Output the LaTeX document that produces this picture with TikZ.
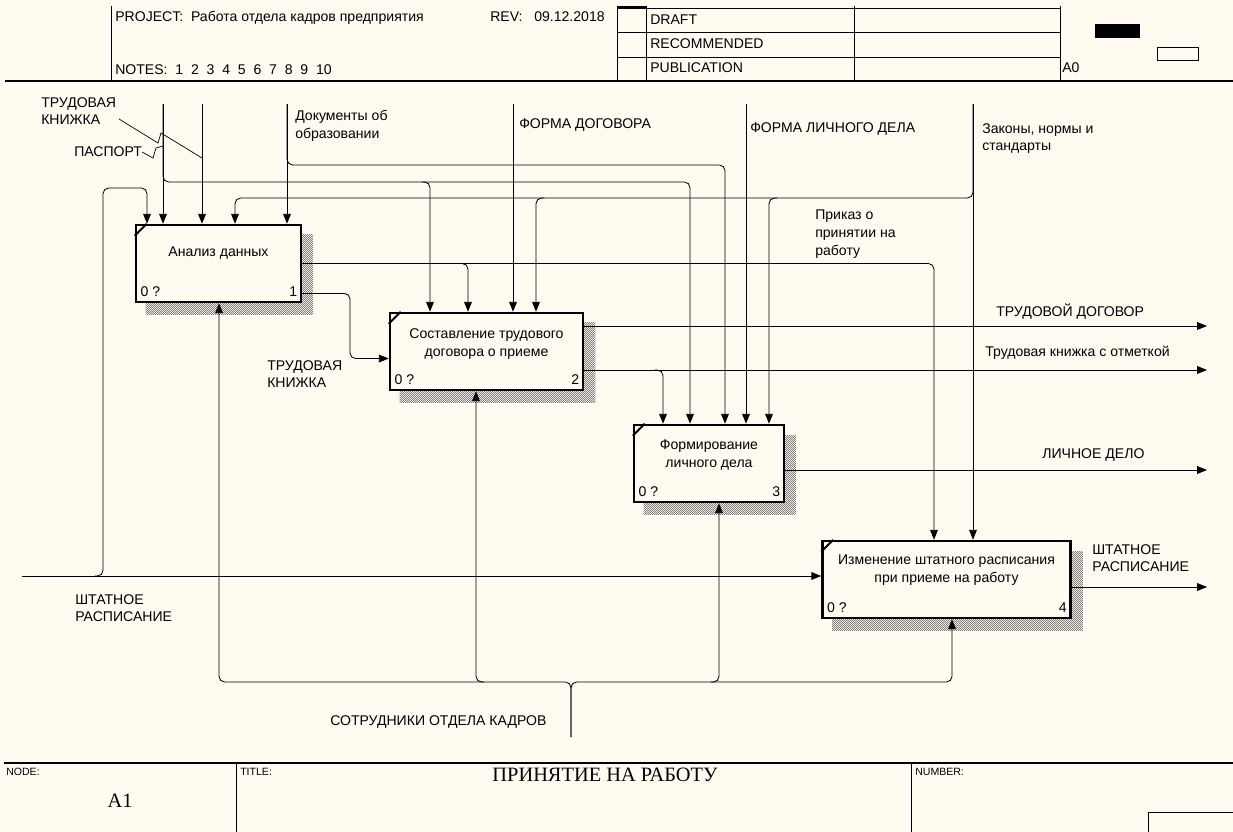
\documentclass[tikz,border=0pt]{standalone}
\usepackage{fontspec}
\setmainfont{Liberation Sans}
\newfontfamily\ttlfont{Liberation Serif}
\usetikzlibrary{%
  arrows.meta,
  positioning,calc,
  patterns, backgrounds
}
\definecolor{paper}{HTML}{FFFBF0}
\pgfdeclarepatternformonly{shadowdots}{\pgfpointorigin}{\pgfqpoint{1.42pt}{1.42pt}}{\pgfqpoint{1.42pt}{1.42pt}}{%
  \pgfpathrectangle{\pgfpointorigin}{\pgfqpoint{0.71pt}{0.71pt}}
  \pgfpathrectangle{\pgfqpoint{0.71pt}{0.71pt}}{\pgfqpoint{0.71pt}{0.71pt}}
  \pgfusepath{fill}
}
\tikzset{
  flow/.style={-{Triangle[length=7pt,width=5.5pt]},line width=0.6pt},
  rc/.style={rounded corners=4pt},
  fn/.style={draw,line width=1.8pt,fill=paper,minimum height=1.925cm,inner sep=0pt},
  lbl/.style={inner sep=0pt,align=left,font=\fontsize{10}{12.7}\selectfont},
  fname/.style={inner sep=0pt,align=center,anchor=north,font=\fontsize{10}{12.7}\selectfont},
  hdr/.style={inner sep=0pt,anchor=base west,font=\fontsize{10}{12}\selectfont},
  small/.style={inner sep=0pt,anchor=base west,font=\fontsize{7.5}{9}\selectfont},
}
\begin{document}
\begin{tikzpicture}[x=0.025cm,y=-0.025cm]
  \useasboundingbox (0,0) rectangle (1233,832);

  % header
  \foreach \x in {111,617,646,854,1060} \draw[line width=0.6pt] (\x,6) -- (\x,81);
  \foreach \y in {8,32,57} \draw[line width=0.6pt] (617,\y) -- (1060,\y);
  \draw[line width=2pt] (617,7) -- (646,7);
  \draw[line width=1.6pt] (5,81) -- (1233,81);
  \fill (1095,24) rectangle (1140,38);
  \draw[line width=0.6pt] (1157,47) rectangle (1198,60);
  \node[hdr] (proj) at (115,22) {PROJECT:\ \ Работа отдела кадров предприятия};
  \node[hdr] (rev) at (490,22) {REV:\ \ \ 09.12.2018};
  \node[hdr] (notes) at (115,75) {NOTES:\ \ 1\ \ 2\ \ 3\ \ 4\ \ 5\ \ 6\ \ 7\ \ 8\ \ 9\ \ 10};
  \node[hdr] (draft) at (650,25) {DRAFT};
  \node[hdr] (recom) at (650,49) {RECOMMENDED};
  \node[hdr] (publ) at (650,73) {PUBLICATION};
  \node[hdr] (ctx) at (1062,73) {A0};

  % footer
  \draw[line width=1.6pt] (4,763) -- (1233,763);
  \foreach \x in {236,911} \draw[line width=0.6pt] (\x,763) -- (\x,832);
  \draw[line width=0.6pt] (1148,832) -- (1148,812) -- (1233,812);
  \node[small] (nodeL) at (6,775) {NODE:};
  \node[small] (titleL) at (240,775) {TITLE:};
  \node[small] (numL) at (915,775) {NUMBER:};
  \node[font=\ttlfont\fontsize{14.5}{16}\selectfont,inner sep=0pt] (ttl) at (605,775) {ПРИНЯТИЕ НА РАБОТУ};
  \node[font=\ttlfont\fontsize{14.5}{16}\selectfont,inner sep=0pt] (nodeN) at (120,801) {A1};

  % activities
  \node[fn,minimum width=4.125cm] (b1) at (218.5,263.5) {};
  \node[fn,minimum width=4.825cm] (b2) at (486.5,351.5) {};
  \node[fn,minimum width=3.75cm] (b3) at (709,463.5) {};
  \node[fn,minimum width=6.2cm] (b4) at (946.5,579.5) {};
  \node[fname] (b1t) at ([yshift=-16pt]b1.north) {Анализ данных};
  \node[fname] (b2t) at ([yshift=-12pt]b2.north) {Составление трудового\\договора о приеме};
  \node[fname] (b3t) at ([yshift=-11.5pt]b3.north) {Формирование\\личного дела};
  \node[fname] (b4t) at ([yshift=-10.5pt]b4.north) {Изменение штатного расписания\\при приеме на работу};
  \foreach \b/\n in {b1/1,b2/2,b3/3,b4/4} {
    \draw[line width=1.4pt] ($(\b.north west)+(0,12)$) -- ($(\b.north west)+(12,0)$);
    \node[hdr] (\b-cost) at ([xshift=4pt,yshift=5pt]\b.south west) {0 ?};
    \node[hdr,anchor=base east] (\b-num) at ([xshift=-3.5pt,yshift=5pt]\b.south east) {\n};
  }

  % free ends and junctions
  \coordinate (pas) at (163,104);
  \coordinate (tk) at (202,104);
  \coordinate (doc) at (287,104);
  \coordinate (fd) at (513,104);
  \coordinate (fld) at (746,104);
  \coordinate (law) at (973,104);
  \coordinate (stIn) at (22,576);
  \coordinate (staff) at (571,737);
  \coordinate (out1) at (1207,326);
  \coordinate (out2) at (1207,370);
  \coordinate (out3) at (1207,470);
  \coordinate (out4) at (1207,587);
  \coordinate (jPas) at (690,182);
  \coordinate (jPas2) at (430,182);
  \coordinate (jDoc) at (725,165);
  \coordinate (jLaw) at (235,198);
  \coordinate (jLaw2) at (536,198);
  \coordinate (jLaw3) at (769,198);
  \coordinate (jPr) at (934,263.5);
  \coordinate (jPr2) at (468,263.5);
  \coordinate (jTk) at (350,330);
  \coordinate (jOut2) at (663,370);
  \coordinate (jSt) at (103,576);
  \coordinate (jStTop) at (103,188);
  \coordinate (jSt2) at (147,188);
  \coordinate (mL) at (219,682);
  \coordinate (mR) at (952,682);
  \coordinate (m2) at (476,682);
  \coordinate (m3) at (719,682);

  % inputs and controls
  \draw[flow] (pas) -- (pas |- b1.north);
  \draw[flow,rc] (pas) |- (jPas) -- (jPas |- b3.north);
  \draw[flow,rc] ([xshift=-6pt]jPas2) -| (jPas2 |- b2.north);
  \draw[flow] (tk) -- (tk |- b1.north);
  \draw[flow] (doc) -- (doc |- b1.north);
  \draw[flow,rc] (doc) |- (jDoc) -- (jDoc |- b3.north);
  \draw[flow] (fd) -- (fd |- b2.north);
  \draw[flow] (fld) -- (fld |- b3.north);
  \draw[flow] (law) -- (law |- b4.north);
  \draw[flow,rc] (law) |- (jLaw) -- (jLaw |- b1.north);
  \draw[flow,rc] ([xshift=6pt]jLaw2) -| (jLaw2 |- b2.north);
  \draw[flow,rc] ([xshift=6pt]jLaw3) -| (jLaw3 |- b3.north);
  \draw[flow] (stIn) -- (b4.west |- stIn);
  \draw[flow,rc] ([xshift=-6pt]jSt) -| (jStTop) -| (jSt2 |- b1.north);

  % outputs
  \draw[flow,rc] (b1.east) -| (jPr |- b4.north);
  \draw[flow,rc] ([xshift=-6pt]jPr2) -| (jPr2 |- b2.north);
  \draw[flow,rc] ([yshift=7pt]b1.south east) -| (jTk) |- ([yshift=-5pt]b2.west);
  \draw[flow] (b2.east |- out1) -- (out1);
  \draw[flow] (b2.east |- out2) -- (out2);
  \draw[flow,rc] ([xshift=-6pt]jOut2) -| (jOut2 |- b3.north);
  \draw[flow] (b3.east |- out3) -- (out3);
  \draw[flow] (b4.east |- out4) -- (out4);

  % mechanism
  \draw[flow,rc] (staff) |- (mL) -- (mL |- b1.south);
  \draw[flow,rc] (staff) |- (mR) -- (mR |- b4.south);
  \draw[flow,rc] ([xshift=6pt]m2) -| (m2 |- b2.south);
  \draw[flow,rc] ([xshift=-6pt]m3) -| (m3 |- b3.south);

  % arrow labels
  \node[lbl,anchor=north west] (lTk) at (41,97) {ТРУДОВАЯ\\КНИЖКА};
  \node[lbl,anchor=base west] (lPas) at (74,157) {ПАСПОРТ};
  \node[lbl,anchor=north west] (lDoc) at (295,110) {Документы об\\образовании};
  \node[lbl,anchor=base west] (lFd) at (519,129) {ФОРМА ДОГОВОРА};
  \node[lbl,anchor=base west] (lFld) at (750,133) {ФОРМА ЛИЧНОГО ДЕЛА};
  \node[lbl,anchor=north west] (lLaw) at (982,123) {Законы, нормы и\\стандарты};
  \node[lbl,anchor=north west] (lPr) at (815,210) {Приказ о\\принятии на\\работу};
  \node[lbl,anchor=north west] (lTk2) at (267,360) {ТРУДОВАЯ\\КНИЖКА};
  \node[lbl,anchor=base west] (lOut1) at (996,317) {ТРУДОВОЙ ДОГОВОР};
  \node[lbl,anchor=base west] (lOut2) at (985,357) {Трудовая книжка с отметкой};
  \node[lbl,anchor=base west] (lOut3) at (1042,458) {ЛИЧНОЕ ДЕЛО};
  \node[lbl,anchor=north west] (lSt) at (75,594) {ШТАТНОЕ\\РАСПИСАНИЕ};
  \node[lbl,anchor=north west] (lOut4) at (1092,544) {ШТАТНОЕ\\РАСПИСАНИЕ};
  \node[lbl,anchor=base west] (lStaff) at (330,725) {СОТРУДНИКИ ОТДЕЛА КАДРОВ};
  % squiggles
  \draw[line width=0.5pt] (119,119) -- (158,143) -- (161,133) -- (202,158);
  \draw[line width=0.5pt] (lPas.east) -- (153,158) -- (156,148) -- (163,146);

  \begin{scope}[on background layer]
    \fill[paper] (0,0) rectangle (1233,832);
    \foreach \b in {b1,b2,b3,b4}
      \fill[pattern=shadowdots,pattern color=black!50] ($(\b.south west)+(11,11)$) rectangle ($(\b.north east)+(11,11)$);
  \end{scope}
\end{tikzpicture}
\end{document}
